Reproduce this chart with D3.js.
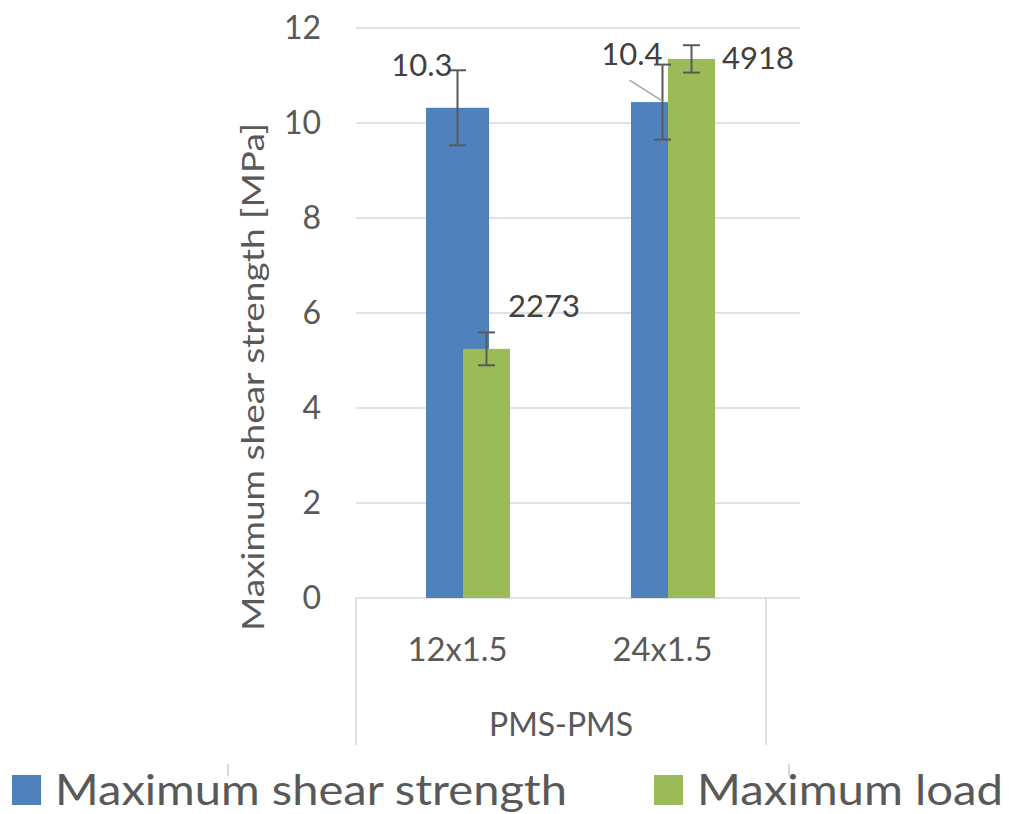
<!DOCTYPE html>
<html><head><meta charset="utf-8">
<script src="https://cdn.jsdelivr.net/npm/d3@7"></script>
<style>html,body{margin:0;padding:0;background:#fff;}svg{display:block;font-family:Lato,"Open Sans",sans-serif;}</style>
</head><body>
<svg id="chart" width="1009" height="814"></svg>
<script>
// ---- data ----
const categories = ["12x1.5", "24x1.5"];
const groupLabel = "PMS-PMS";
const shearStrength = [10.32, 10.44];   // MPa
const shearErr = [0.79, 0.79];
const maxLoad = [2273, 4918];           // N (plotted on hidden secondary axis)
const loadErr = [150, 125];
const yTicks = [0, 2, 4, 6, 8, 10, 12];
const seriesNames = ["Maximum shear strength", "Maximum load"];
const colors = ["#4f81bd", "#9bbb59"];

// ---- layout ----
const svg = d3.select("#chart");
svg.append("rect").attr("width", 1009).attr("height", 814).attr("fill", "#fff");
const plotLeft = 356, plotRight = 800, catRight = 766;
const y = d3.scaleLinear().domain([0, 12]).range([598, 28]);
const yLoad = d3.scaleLinear().domain([0, 5200]).range([598, 28]);
const x = d3.scaleBand().domain(categories).range([plotLeft, catRight]);
const gridColor = "#d9d9d9", textColor = "#595959", labelColor = "#404040";

// gridlines
svg.append("g").selectAll("line").data(yTicks).join("line")
  .attr("x1", plotLeft).attr("x2", plotRight)
  .attr("y1", d => y(d)).attr("y2", d => y(d))
  .attr("stroke", gridColor).attr("stroke-width", 1.5);

// y tick labels
svg.append("g").selectAll("text").data(yTicks).join("text")
  .attr("x", 321).attr("y", d => y(d) + 11)
  .attr("text-anchor", "end").attr("font-size", 32).attr("fill", textColor)
  .text(d => d);

// y title
svg.append("text")
  .attr("transform", "translate(264,377) rotate(-90)")
  .attr("text-anchor", "middle").attr("font-size", 30).attr("fill", textColor)
  .attr("textLength", 508).attr("lengthAdjust", "spacingAndGlyphs")
  .text("Maximum shear strength [MPa]");

// category box
svg.append("line").attr("x1", plotLeft).attr("x2", plotLeft).attr("y1", y(0)).attr("y2", 745)
  .attr("stroke", gridColor).attr("stroke-width", 1.5);
svg.append("line").attr("x1", catRight).attr("x2", catRight).attr("y1", y(0)).attr("y2", 745)
  .attr("stroke", gridColor).attr("stroke-width", 1.5);

svg.append("g").selectAll("text").data(categories).join("text")
  .attr("x", d => x(d) + x.bandwidth() / 2 - 1).attr("y", 661)
  .attr("text-anchor", "middle").attr("font-size", 33).attr("fill", textColor)
  .attr("textLength", 100).attr("lengthAdjust", "spacingAndGlyphs")
  .text(d => d);
svg.append("text").attr("x", (plotLeft + catRight) / 2).attr("y", 736)
  .attr("text-anchor", "middle").attr("font-size", 33).attr("fill", textColor)
  .attr("textLength", 144).attr("lengthAdjust", "spacingAndGlyphs")
  .text(groupLabel);

// bars
const blueW = 63, greenW = 47, blueOff = -1, greenOff = 28;
const cx = (c) => x(c) + x.bandwidth() / 2;
svg.append("g").selectAll("rect").data(categories).join("rect")
  .attr("x", (d, i) => cx(d) + blueOff - blueW / 2).attr("width", blueW)
  .attr("y", (d, i) => y(shearStrength[i])).attr("height", (d, i) => y(0) - y(shearStrength[i]))
  .attr("fill", colors[0]);
svg.append("g").selectAll("rect").data(categories).join("rect")
  .attr("x", (d, i) => cx(d) + greenOff - greenW / 2).attr("width", greenW)
  .attr("y", (d, i) => yLoad(maxLoad[i])).attr("height", (d, i) => y(0) - yLoad(maxLoad[i]))
  .attr("fill", colors[1]);

// error bars
function errBar(g, xc, y1, y2) {
  const cw = 8.5, col = "#595959";
  g.append("line").attr("x1", xc).attr("x2", xc).attr("y1", y1).attr("y2", y2).attr("stroke", col).attr("stroke-width", 2);
  g.append("line").attr("x1", xc - cw).attr("x2", xc + cw).attr("y1", y1).attr("y2", y1).attr("stroke", col).attr("stroke-width", 2);
  g.append("line").attr("x1", xc - cw).attr("x2", xc + cw).attr("y1", y2).attr("y2", y2).attr("stroke", col).attr("stroke-width", 2);
}
const eg = svg.append("g");
categories.forEach((c, i) => {
  errBar(eg, cx(c) + blueOff, y(shearStrength[i] + shearErr[i]), y(shearStrength[i] - shearErr[i]));
  errBar(eg, cx(c) + greenOff, yLoad(maxLoad[i] + loadErr[i]), yLoad(maxLoad[i] - loadErr[i]));
});

// data labels
const fmt = d3.format(".1f");
const shearLblPos = [{dx: -5, dy: -32}, {dx: 0, dy: -37}];
const loadLblPos = [{dx: -2, dy: -32}, {dx: 7, dy: 10}];
categories.forEach((c, i) => {
  const bx = cx(c) + blueOff, by = y(shearStrength[i]);
  svg.append("text").attr("x", bx + shearLblPos[i].dx).attr("y", by + shearLblPos[i].dy)
    .attr("text-anchor", "end").attr("font-size", 31).attr("fill", labelColor)
    .text(fmt(shearStrength[i]));
  const gx = cx(c) + greenOff + greenW / 2, gy = yLoad(maxLoad[i]);
  svg.append("text").attr("x", gx + loadLblPos[i].dx).attr("y", gy + loadLblPos[i].dy)
    .attr("text-anchor", "start").attr("font-size", 31).attr("fill", labelColor)
    .text(maxLoad[i]);
});
// leader line for second shear label
{
  const c = categories[1];
  const bx = cx(c) + blueOff, by = y(shearStrength[1]);
  svg.append("line").attr("x1", bx - 33).attr("y1", by - 22).attr("x2", bx).attr("y2", by - 1)
    .attr("stroke", "#a6a6a6").attr("stroke-width", 1.5);
}

// legend
const legend = [
  {sx: 12, tx: 55, tl: 512},
  {sx: 654, tx: 697, tl: 306}
];
seriesNames.forEach((name, i) => {
  svg.append("rect").attr("x", legend[i].sx).attr("y", 775).attr("width", 29).attr("height", 30).attr("fill", colors[i]);
  svg.append("text").attr("x", legend[i].tx).attr("y", 805)
    .attr("font-size", 42).attr("fill", textColor)
    .attr("textLength", legend[i].tl).attr("lengthAdjust", "spacingAndGlyphs")
    .text(name);
});
// faint legend border remnants
[228, 789].forEach(xx => svg.append("line").attr("x1", xx).attr("x2", xx).attr("y1", 764).attr("y2", 776)
  .attr("stroke", gridColor).attr("stroke-width", 2));
</script>
</body></html>
